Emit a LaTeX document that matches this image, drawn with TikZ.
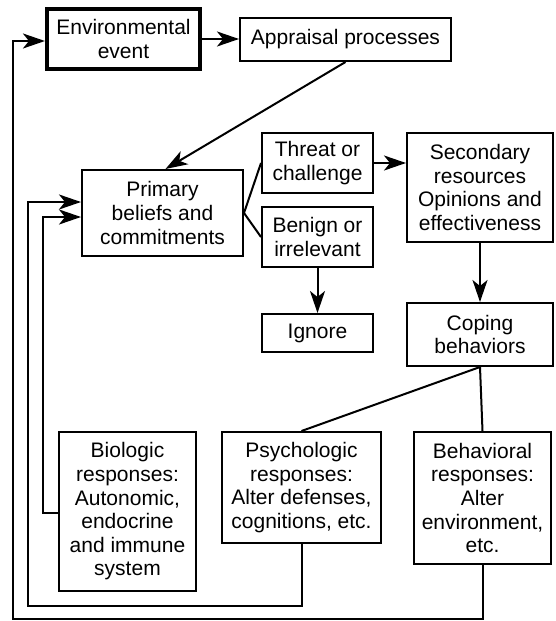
\documentclass[tikz,border=0pt]{standalone}
\usepackage{fontspec}
\setmainfont{Liberation Sans}
\usetikzlibrary{arrows.meta,calc}
\tikzset{
  box/.style={draw, line width=2pt, inner sep=0pt, align=center,
    font=\fontsize{21}{23.6}\selectfont},
  thickbox/.style={box, line width=3.6pt},
  conn/.style={line width=2pt},
  arr/.style={conn, -{Stealth[length=22pt,width=15pt,inset=6pt]}},
}
\begin{document}
\begin{tikzpicture}[x=1pt,y=-1pt]
\useasboundingbox (0,0) rectangle (555,621);
\node[thickbox, minimum width=153.5, minimum height=60.5] (env) at (123.5,39) {Environmental\\event};
\node[box, minimum width=211, minimum height=43] (appr) at (345.5,39.5) {Appraisal processes};
\node[box, minimum width=161, minimum height=86] (prim) at (162.5,213) {Primary\\beliefs and\\commitments};
\node[box, minimum width=111, minimum height=60] (threat) at (317.5,163) {Threat or\\challenge};
\node[box, minimum width=111, minimum height=60] (benign) at (317.5,237) {Benign or\\irrelevant};
\node[box, minimum width=111, minimum height=38] (ignore) at (317.5,333) {Ignore};
\node[box, minimum width=146, minimum height=109] (second) at (480,187.5) {Secondary\\resources\\Opinions and\\effectiveness};
\node[box, minimum width=146, minimum height=63] (coping) at (480,334.5) {Coping\\behaviors};
\node[box, minimum width=137, minimum height=159] (bio) at (127.5,511.5) {Biologic\\responses:\\Autonomic,\\endocrine\\and immune\\system};
\node[box, minimum width=159, minimum height=111] (psych) at (301.5,487.5) {Psychologic\\responses:\\Alter defenses,\\cognitions, etc.};
\node[box, minimum width=137, minimum height=132] (behav) at (482.5,498) {Behavioral\\responses:\\Alter\\environment,\\etc.};

\coordinate (p1) at (43,513);
\coordinate (p2) at (28,606);
\coordinate (p3) at (13,619);

\draw[arr] (env.east) -- (appr.west |- env.east);
\draw[arr] (appr.south) -- ($(prim.north)+(3,0)$);
\draw[conn] (prim.east) -- (threat.west);
\draw[conn] (prim.east) -- (benign.west);
\draw[arr] (threat.east) -- (second.west |- threat.east);
\draw[arr] (benign.south) -- (ignore.north);
\draw[arr] (second.south) -- (coping.north);
\draw[conn] (coping.south) -- (psych.north);
\draw[conn] (coping.south) -- (behav.north);
\draw[arr] (bio.west |- p1) -- (p1) |- ($(prim.west)+(0,4)$);
\draw[arr] (psych.south) |- (p2) |- ($(prim.west)+(0,-11)$);
\draw[arr] (behav.south) |- (p3) |- ($(env.west)+(0,2)$);
\end{tikzpicture}
\end{document}
